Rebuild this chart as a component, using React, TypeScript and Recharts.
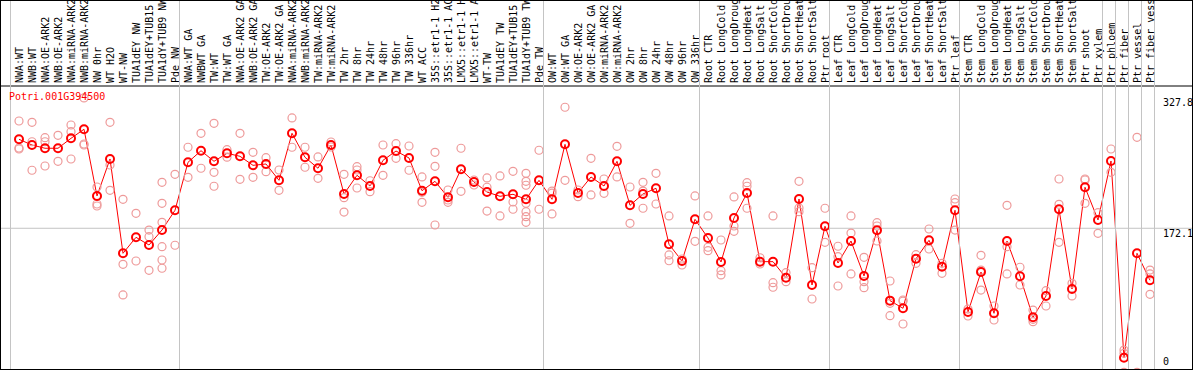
import React from "react";
import { ComposedChart, Line, Scatter, XAxis, YAxis, ReferenceLine } from "recharts";

const geneId = "Potri.001G394500";

const categories = [
  "NWA:WT", "NWB:WT", "NWA:OE-ARK2", "NWB:OE-ARK2", "NWA:miRNA-ARK2", "NWB:miRNA-ARK2",
  "NW 0hr", "WT H2O", "WT-NW", "TUA1dEY NW", "TUA1dEY+TUB15 NW", "TUA1dY+TUB9 NW", "Pde NW",
  "NWA:WT GA", "NWBWT GA", "TW:WT", "TW:WT GA", "NWA:OE-ARK2 GA", "NWB:OE-ARK2 GA", "TW:OE-ARK2",
  "TW:OE-ARK2 GA", "NWA:miRNA-ARK2 GA", "NWB:miRNA-ARK2 GA", "TW:miRNA-ARK2", "TW:miRNA-ARK2 GA",
  "TW 2hr", "TW 8hr", "TW 24hr", "TW 48hr", "TW 96hr", "TW 336hr", "WT ACC",
  "35S::etr1-1 H2O", "35S::etr1-1 ACC", "LMX5::etr1-1 H2O", "LMX5::etr1-1 ACC", "WT-TW",
  "TUA1dEY TW", "TUA1dEY+TUB15 TW", "TUA1dY+TUB9 TW", "Pde TW",
  "OW:WT", "OW:WT GA", "OW:OE-ARK2", "OW:OE-ARK2 GA", "OW:miRNA-ARK2", "OW:miRNA-ARK2 GA",
  "OW 2hr", "OW 8hr", "OW 24hr", "OW 48hr", "OW 96hr", "OW 336hr",
  "Root CTR", "Root LongCold", "Root LongDrought", "Root LongHeat", "Root LongSalt",
  "Root ShortCold", "Root ShortDrought", "Root ShortHeat", "Root ShortSalt", "Ptr root",
  "Leaf CTR", "Leaf LongCold", "Leaf LongDrought", "Leaf LongHeat", "Leaf LongSalt",
  "Leaf ShortCold", "Leaf ShortDrought", "Leaf ShortHeat", "Leaf ShortSalt", "Ptr leaf",
  "Stem CTR", "Stem LongCold", "Stem LongDrought", "Stem LongHeat", "Stem LongSalt",
  "Stem ShortCold", "Stem ShortDrought", "Stem ShortHeat", "Stem ShortSalt", "Ptr shoot",
  "Ptr xylem", "Ptr phloem", "Ptr fiber", "Ptr vessel", "Ptr fiber vessel",
];

const groupStarts = [0, 13, 41, 53, 63, 73, 84, 85, 86, 87];

const means = [
  278.4, 271.6, 267.7, 267.7, 279.6, 290.4, 210.7, 254.9, 142.2, 161.3,
  152.1, 170.0, 193.6, 250.9, 264.8, 252.1, 261.7, 258.1, 247.3, 248.9,
  229.4, 285.6, 256.9, 243.8, 271.6, 213.1, 235.4, 222.6, 253.3, 264.4,
  256.1, 217.0, 228.2, 209.1, 242.6, 227.4, 215.4, 210.3, 212.7, 206.7,
  229.4, 206.7, 272.4, 214.2, 233.4, 222.6, 252.1, 199.5, 213.1, 219.9,
  152.9, 133.0, 182.8, 160.5, 131.8, 184.4, 214.2, 132.2, 132.2, 113.0,
  207.1, 104.3, 174.5, 130.6, 156.9, 115.1, 169.7, 85.6, 76.5, 135.7,
  157.7, 126.2, 193.6, 72.1, 119.8, 70.5, 156.9, 114.7, 65.7, 91.2,
  194.8, 99.5, 221.1, 182.0, 252.5, 17.4, 142.2, 109.9,
];

const replicates = [
  [300.3, 268.0, 266.8], [298.7, 275.5, 241.4], [280.3, 275.5, 246.5], [283.2, 252.1],
  [295.5, 287.5, 254.9], [327.8, 272.8, 271.6], [221.4, 210.7, 201.1, 198.7], [298.7, 247.7, 217.5],
  [206.7, 129.0, 92.4], [190.0, 133.0], [170.0, 162.0, 121.9],
  [227.0, 201.9, 179.2, 150.1, 134.2, 124.3], [236.6, 151.8],
  [268.9, 233.0], [285.6, 243.8], [297.5, 239.0, 222.3], [257.0, 266.0], [285.6, 230.6],
  [262.9, 233.0], [256.4, 239.7], [241.7, 217.5], [303.9, 268.9], [268.9, 245.0],
  [257.3, 231.8], [275.2, 269.2], [236.6, 208.6, 191.5], [245.7, 241.7, 220.2],
  [228.9, 215.8], [271.6, 235.4], [273.2, 255.7], [270.4, 241.4], [233.4, 215.1, 203.1],
  [262.9, 246.1, 176.0], [217.8, 205.9, 203.1], [267.7, 216.3], [229.8, 223.8],
  [232.2, 221.1, 192.7], [234.6, 186.8], [240.2, 203.5, 194.8],
  [237.8, 228.2, 223.5, 201.9, 191.9, 185.9, 179.2], [265.3, 194.8],
  [216.6, 214.0, 189.2], [316.7, 229.4], [217.8, 209.8], [255.7, 211.9], [231.0, 213.9],
  [270.0, 233.4], [221.4, 178.0], [227.0, 216.6, 196.0], [237.8, 201.1],
  [186.8, 140.2, 133.3], [135.4, 128.2], [210.7, 156.5],
  [186.8, 149.4, 145.3], [158.1, 121.4, 116.3], [209.5, 174.8, 168.5], [226.6, 222.3, 196.0],
  [136.9, 129.4], [186.8, 107.1, 101.6], [119.0, 108.3], [228.2, 196.3, 191.9],
  [125.0, 87.6], [196.0, 155.3],
  [150.6, 138.1, 103.1], [186.8, 166.4, 117.5], [137.4, 108.3, 101.1], [178.8, 174.8, 156.9],
  [109.1, 82.4, 67.6], [86.4, 85.0, 57.7], [140.5, 130.2], [171.2, 147.3], [130.2, 118.3],
  [207.1, 202.7, 170.0],
  [75.6, 67.3], [139.8, 122.2, 98.3], [79.2, 62.5], [199.5, 150.1, 117.5], [125.5, 104.3],
  [74.4, 63.3, 60.5], [97.5, 79.2], [231.0, 200.7, 155.3], [106.3, 91.2],
  [231.0, 229.8, 201.9], [190.7, 166.1],
  [266.8, 239.0], [26.6, 22.7, 0], [280.8, 0], [122.2, 117.5, 93.2],
];

const yTicks = [0, 172.1, 327.8];

const meanData = categories.map((name, i) => ({ i, name, mean: means[i] }));
const repData = replicates.flatMap((reps, i) => reps.map((v) => ({ i, v })));
const tickIdx = categories.map((_, i) => i);

const FONT = "'DejaVu Sans Mono', monospace";

function HeaderTick(props: any) {
  const { x, payload } = props;
  const i = payload.value as number;
  const label = categories[i];
  const lines: number[] = [];
  if (groupStarts.includes(i)) lines.push(x - 9);
  if (i === categories.length - 1) lines.push(x + 4);
  return (
    <g>
      {lines.map((lx, k) => (
        <line key={k} x1={lx + 0.5} x2={lx + 0.5} y1={0} y2={368} stroke="#c4c4c4" strokeWidth={1} />
      ))}
      <text
        transform={`translate(${x + 3.5},82) rotate(-90)`}
        fontFamily={FONT}
        fontSize={10}
        fill="#000"
        textAnchor="start"
      >
        {label}
      </text>
    </g>
  );
}

function ValueTick(props: any) {
  const { y, payload } = props;
  const base = Math.min(y + 8.5, 364);
  return (
    <text x={1162} y={base} fontFamily={FONT} fontSize={10} fill="#000" textAnchor="start">
      {String(payload.value)}
    </text>
  );
}

function MeanDot(props: any) {
  const { cx, cy } = props;
  if (cx == null || cy == null) return null;
  return <circle cx={cx} cy={cy} r={4} fill="none" stroke="#ff0000" strokeWidth={2} />;
}

function RepDot(props: any) {
  const { cx, cy } = props;
  return <circle cx={cx} cy={cy} r={4} fill="none" stroke="#ee9a9a" strokeWidth={1.2} />;
}

export default function App() {
  return (
    <div style={{ position: "absolute", left: 0, top: 0, width: 1194, height: 370, background: "#fff" }}>
      <div
        style={{
          position: "absolute",
          left: 0,
          top: 0,
          width: 1191,
          height: 368,
          border: "1px solid #000",
        }}
      >
        <ComposedChart
          width={1191}
          height={368}
          data={meanData}
          margin={{ top: 0, right: 0, bottom: 0, left: 0 }}
        >
          <XAxis
            type="number"
            dataKey="i"
            orientation="top"
            height={85}
            domain={[-18 / 13, 1173 / 13]}
            allowDataOverflow
            ticks={tickIdx}
            interval={0}
            tick={<HeaderTick />}
            tickLine={false}
            axisLine={{ stroke: "#000", strokeWidth: 1 }}
          />
          <YAxis
            orientation="right"
            mirror
            width={30}
            domain={[3.94, 342.1]}
            allowDataOverflow
            ticks={yTicks}
            interval={0}
            tick={<ValueTick />}
            tickLine={false}
            axisLine={false}
          />
          <ReferenceLine y={172.1} stroke="#c4c4c4" strokeWidth={1} />
          <Scatter data={repData} dataKey="v" shape={<RepDot />} isAnimationActive={false} />
          <Line
            type="linear"
            dataKey="mean"
            stroke="#ff0000"
            strokeWidth={1}
            dot={<MeanDot />}
            activeDot={false}
            isAnimationActive={false}
          />
        </ComposedChart>
      </div>
      <div
        style={{
          position: "absolute",
          left: 9,
          top: 92,
          fontFamily: FONT,
          fontSize: 10,
          lineHeight: "10px",
          color: "#ff0000",
          whiteSpace: "nowrap",
        }}
      >
        {geneId}
      </div>
    </div>
  );
}
